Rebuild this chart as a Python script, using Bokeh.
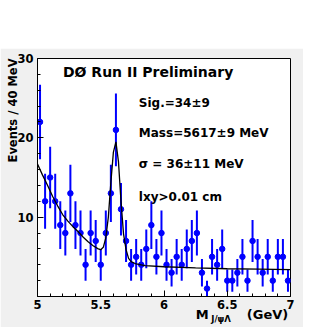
import numpy as np
from bokeh.plotting import figure
from bokeh.models import FixedTicker, Label, Spacer, ColumnDataSource, Range1d, LinearAxis
from bokeh.layouts import column
from bokeh.embed import file_html
from bokeh.resources import INLINE

# ---- data ----
bin_centers = [5.02, 5.06, 5.10, 5.14, 5.18, 5.22, 5.26, 5.30, 5.34, 5.38,
               5.42, 5.46, 5.50, 5.54, 5.58, 5.62, 5.66, 5.70, 5.74, 5.78,
               5.82, 5.86, 5.90, 5.94, 5.98, 6.02, 6.06, 6.10, 6.14, 6.18,
               6.22, 6.26, 6.30, 6.34, 6.38, 6.42, 6.46, 6.50, 6.54, 6.58,
               6.62, 6.66, 6.70, 6.74, 6.78, 6.82, 6.86, 6.90, 6.94, 6.98]
counts = [22, 12, 15, 12, 9, 8, 13, 9, 8, 4,
          8, 7, 4, 8, 13, 21, 11, 7, 4, 5,
          4, 6, 9, 5, 8, 4, 3, 5, 4, 6,
          7, 8, 3, 1, 5, 4, 6, 2, 2, 3,
          5, 2, 7, 5, 3, 5, 2, 5, 5, 2]

fit_x = [5.00, 5.04, 5.08, 5.12, 5.16, 5.20, 5.24, 5.28, 5.32, 5.36,
         5.40, 5.44, 5.48, 5.50, 5.52, 5.54, 5.56, 5.58, 5.60, 5.62,
         5.64, 5.66, 5.68, 5.70, 5.72, 5.74, 5.78, 5.85, 6.00, 6.25,
         6.50, 6.75, 7.00]
fit_y = [16.7, 15.3, 14.0, 12.6, 11.4, 10.3, 9.5, 8.8, 8.2, 7.5,
         6.9, 6.4, 6.0, 5.9, 6.2, 7.4, 10.0, 14.4, 18.2, 19.5,
         17.0, 12.0, 7.9, 5.9, 4.8, 4.4, 4.1, 3.9, 3.75, 3.6,
         3.5, 3.45, 3.4]

x_ticks = [5, 5.5, 6, 6.5, 7]
x_tick_labels = ["5", "5.5", "6", "6.5", "7"]
x_minor = [5.1, 5.2, 5.3, 5.4, 5.6, 5.7, 5.8, 5.9, 6.1, 6.2, 6.3, 6.4,
           6.6, 6.7, 6.8, 6.9]
y_ticks = [10, 20, 30]
y_tick_labels = ["10", "20", "30"]
y_minor = [2, 4, 6, 8, 12, 14, 16, 18, 22, 24, 26, 28]

title_text = "DØ Run II Preliminary"
info_texts = ["Sig.=34±9", "Mass=5617±9 MeV", "σ = 36±11 MeV", "lxy>0.01 cm"]
y_title = "Events / 40 MeV"
x_title_main = "M"
x_title_sub = "J/ψΛ"
x_title_unit = "(GeV)"

# ---- figure ----
FONT = "DejaVu Sans"
GREY = "#f0f0f0"

p = figure(width=303, height=279, output_backend="svg", toolbar_location=None,
           x_range=Range1d(5, 7), y_range=Range1d(0, 30),
           min_border_left=37, min_border_right=13,
           min_border_top=10, min_border_bottom=31)
p.border_fill_color = GREY
p.background_fill_color = "white"
p.outline_line_color = "black"
p.outline_line_width = 1
p.xgrid.visible = False
p.ygrid.visible = False


def style_axis(ax, size):
    ax.major_label_text_font = FONT
    ax.major_label_text_font_style = "bold"
    ax.major_label_text_font_size = size
    ax.major_label_text_color = "black"


for ax in (p.xaxis[0], p.yaxis[0]):
    ax.major_tick_in = 6
    ax.major_tick_out = 0
    ax.minor_tick_in = 3
    ax.minor_tick_out = 0
    ax.axis_line_color = "black"
    ax.major_tick_line_color = "black"
    ax.minor_tick_line_color = "black"
    style_axis(ax, "11.5px")

p.xaxis[0].ticker = FixedTicker(ticks=x_ticks, minor_ticks=x_minor)
p.xaxis[0].major_label_overrides = {t: l for t, l in zip(x_ticks, x_tick_labels)}
p.xaxis[0].major_label_standoff = 3
p.yaxis[0].ticker = FixedTicker(ticks=y_ticks, minor_ticks=y_minor)
p.yaxis[0].major_label_overrides = {t: l for t, l in zip(y_ticks, y_tick_labels)}
p.yaxis[0].major_label_standoff = 4


def title_axis(positions, texts, size, standoff, orientation="horizontal"):
    ax = LinearAxis(ticker=FixedTicker(ticks=positions, minor_ticks=[]),
                    major_label_overrides={t: s for t, s in zip(positions, texts)},
                    major_label_standoff=standoff,
                    major_label_orientation=orientation,
                    axis_line_color=None, major_tick_line_color=None,
                    minor_tick_line_color=None,
                    major_tick_in=0, major_tick_out=0,
                    minor_tick_in=0, minor_tick_out=0)
    style_axis(ax, size)
    return ax


# axis titles, drawn as label-only axes placed outside the frame
p.add_layout(title_axis([23.45], [y_title], "11.5px", -6, "vertical"), "left")
p.add_layout(title_axis([6.3018, 6.8185], [x_title_main, x_title_unit], "13px", -5), "below")
p.add_layout(title_axis([6.4517], [x_title_sub], "8.5px", -11), "below")

cnt = np.array(counts, dtype=float)
err = np.sqrt(cnt)
src = ColumnDataSource(dict(x=bin_centers, y=counts, lo=cnt - err, hi=cnt + err))

p.segment(x0="x", y0="lo", x1="x", y1="hi", source=src, line_color="#0000ff", line_width=2)
p.scatter("x", "y", source=src, size=5.5, fill_color="#0000ff", line_color="#0000ff")
p.line(fit_x, fit_y, line_color="black", line_width=1.3)


def add_text(x, y, s, size):
    p.add_layout(Label(x=x, y=y, text=s, text_font=FONT, text_font_style="bold",
                       text_font_size=size, text_color="black", text_align="left",
                       text_baseline="middle"))


add_text(5.2012, 28.36, title_text, "14px")
for s, yy in zip(info_texts, [24.39, 20.55, 16.70, 12.48]):
    add_text(5.8008, yy, s, "12px")

layout = column(Spacer(width=303, height=48), p)
open("out.html", "w").write(file_html(layout, INLINE))
